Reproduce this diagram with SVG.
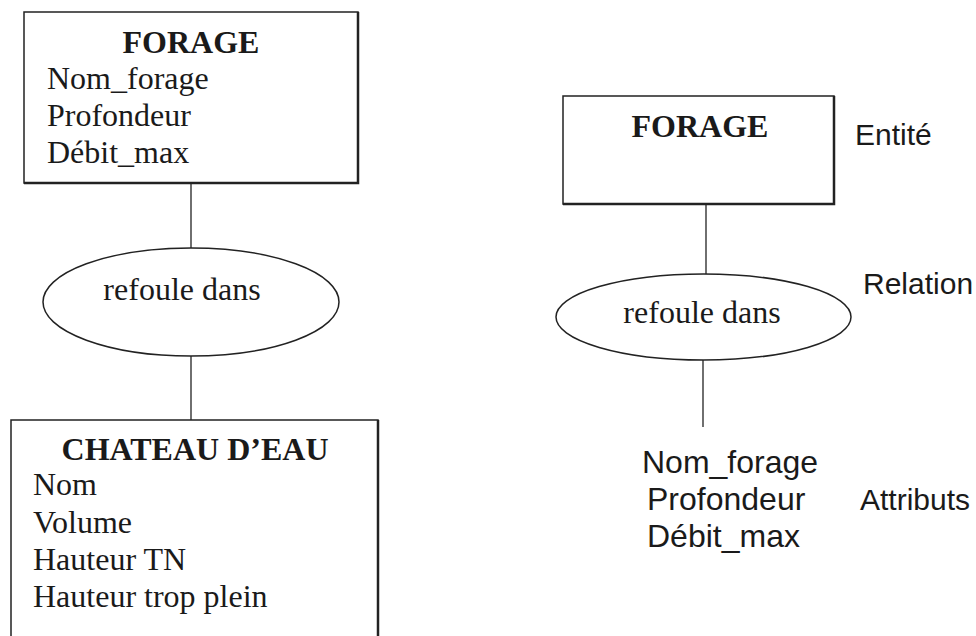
<svg xmlns="http://www.w3.org/2000/svg" width="976" height="636" viewBox="0 0 976 636">
<style>
.box{fill:#fff;stroke:#222;stroke-width:1.5}
.edge{fill:none;stroke:#222;stroke-width:2.5}
.ell{fill:#fff;stroke:#222;stroke-width:1.5}
.ln{stroke:#222;stroke-width:1.3;fill:none}
.t{font-family:"Liberation Serif","Times New Roman",serif;font-size:32px;fill:#1a1a1a}
.tb{font-family:"Liberation Serif","Times New Roman",serif;font-size:32px;font-weight:bold;fill:#1a1a1a}
.s{font-family:"Liberation Sans",Arial,sans-serif;font-size:30px;fill:#1a1a1a}
.a{font-family:"Liberation Sans",Arial,sans-serif;font-size:32px;fill:#1a1a1a}
</style>
<rect width="976" height="636" fill="#fff"/>
<g id="connectors">
<line class="ln" x1="191" y1="183" x2="191" y2="248"/>
<line class="ln" x1="191" y1="356" x2="191" y2="420"/>
<line class="ln" x1="706" y1="204" x2="706" y2="274"/>
<line class="ln" x1="703" y1="360" x2="703" y2="427"/>
</g>
<g id="forage-left">
<rect class="box" x="24" y="12" width="334" height="171"/>
<path class="edge" d="M24 183H358V12"/>
<text class="tb" x="191" y="53" text-anchor="middle">FORAGE</text>
<text class="t" x="47" y="89">Nom_forage</text>
<text class="t" x="47" y="126">Profondeur</text>
<text class="t" x="47" y="163">Débit_max</text>
</g>
<g id="relation-left">
<ellipse class="ell" cx="191" cy="302" rx="148" ry="54"/>
<text class="t" x="182" y="300" text-anchor="middle">refoule dans</text>
</g>
<g id="chateau">
<rect class="box" x="11" y="420" width="367" height="230"/>
<path class="edge" d="M378 420V650"/>
<text class="tb" x="195" y="460" text-anchor="middle">CHATEAU D’EAU</text>
<text class="t" x="33" y="495">Nom</text>
<text class="t" x="33" y="533">Volume</text>
<text class="t" x="33" y="570">Hauteur TN</text>
<text class="t" x="33" y="607">Hauteur trop plein</text>
</g>
<g id="forage-right">
<rect class="box" x="563" y="96" width="271" height="108"/>
<path class="edge" d="M563 204H834V96"/>
<text class="tb" x="700" y="137" text-anchor="middle">FORAGE</text>
</g>
<g id="relation-right">
<ellipse class="ell" cx="703.5" cy="317" rx="147.5" ry="43"/>
<text class="t" x="702" y="323" text-anchor="middle">refoule dans</text>
</g>
<g id="attributs-right">
<text class="a" x="642" y="473">Nom_forage</text>
<text class="a" x="647" y="510">Profondeur</text>
<text class="a" x="647" y="547">Débit_max</text>
</g>
<g id="legend">
<text class="s" x="855" y="145">Entité</text>
<text class="s" x="863" y="294">Relation</text>
<text class="s" x="860" y="510">Attributs</text>
</g>
</svg>
